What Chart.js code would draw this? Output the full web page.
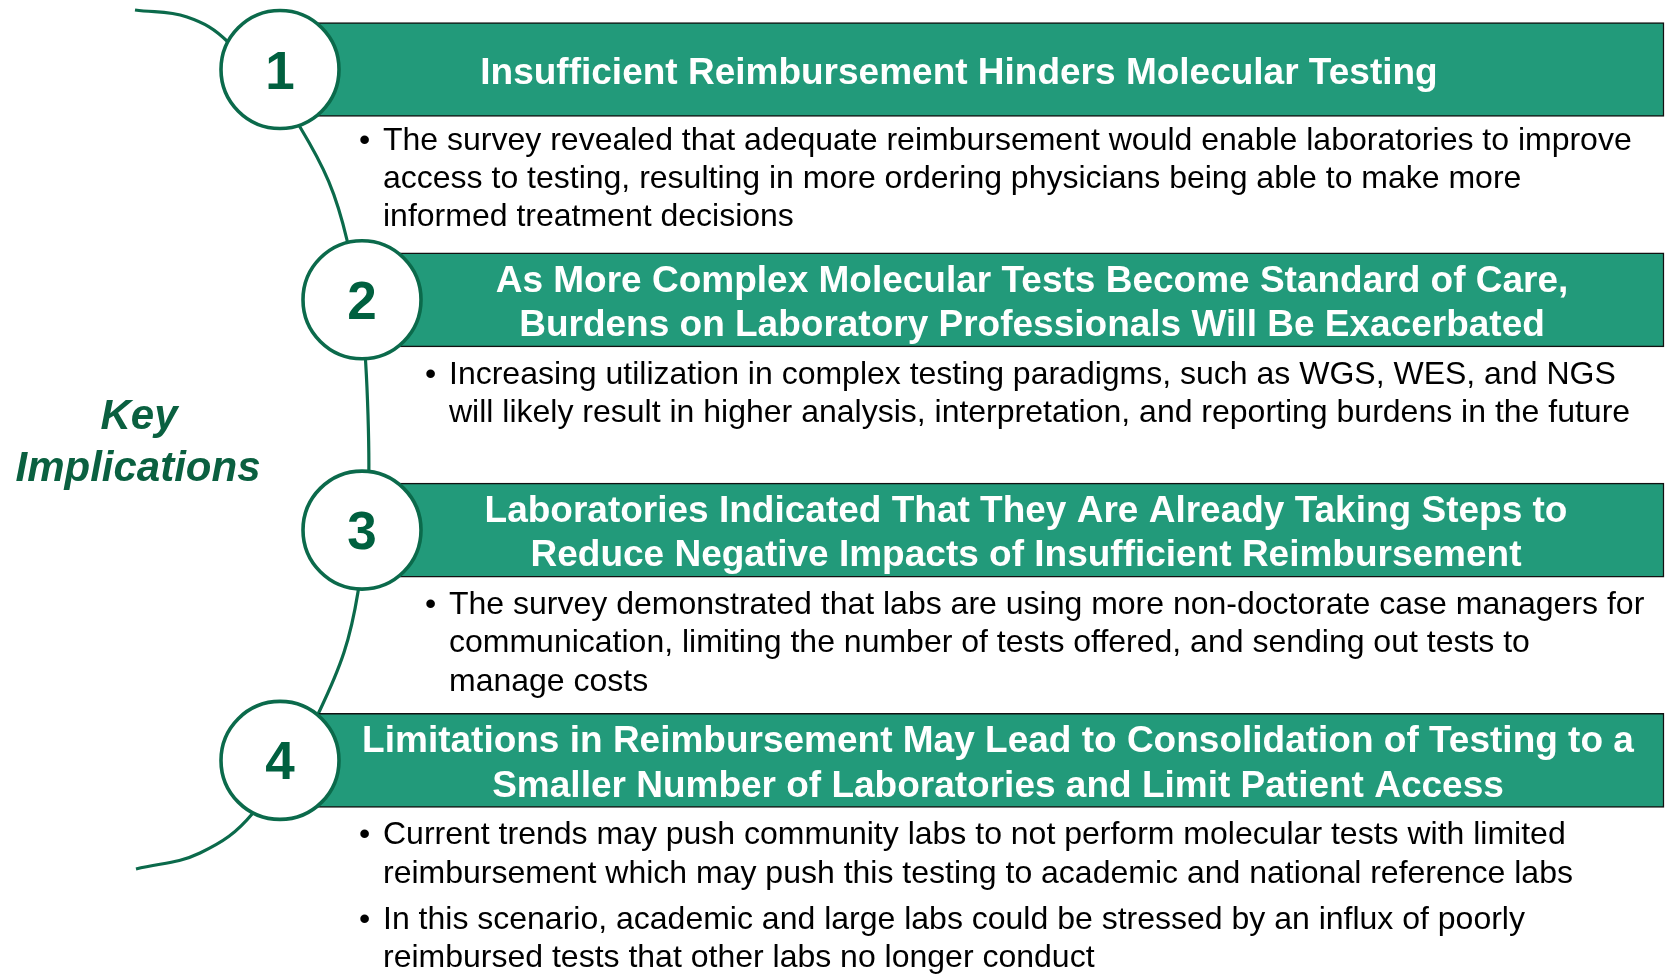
<!DOCTYPE html>
<html>
<head>
<meta charset="utf-8">
<title>Key Implications</title>
<script src="https://cdn.jsdelivr.net/npm/chart.js@4.4.1/dist/chart.umd.min.js"></script>
<style>
    html, body { margin: 0; padding: 0; background: #ffffff; }
    #wrap { width: 1665px; height: 976px; position: relative; }
</style>
</head>
<body>
<div id="wrap"><canvas id="keyChart"></canvas></div>
<script>
// Contenu de la figure
const sideTitle = ["Key", "Implications"];
const stepNumbers = ["1", "2", "3", "4"];
const stepTitles = [
    ["Insufficient Reimbursement Hinders Molecular Testing"],
    ["As More Complex Molecular Tests Become Standard of Care,", "Burdens on Laboratory Professionals Will Be Exacerbated"],
    ["Laboratories Indicated That They Are Already Taking Steps to", "Reduce Negative Impacts of Insufficient Reimbursement"],
    ["Limitations in Reimbursement May Lead to Consolidation of Testing to a", "Smaller Number of Laboratories and Limit Patient Access"]
];
const stepBullets = [
    [["The survey revealed that adequate reimbursement would enable laboratories to improve",
      "access to testing, resulting in more ordering physicians being able to make more",
      "informed treatment decisions"]],
    [["Increasing utilization in complex testing paradigms, such as WGS, WES, and NGS",
      "will likely result in higher analysis, interpretation, and reporting burdens in the future"]],
    [["The survey demonstrated that labs are using more non-doctorate case managers for",
      "communication, limiting the number of tests offered, and sending out tests to",
      "manage costs"]],
    [["Current trends may push community labs to not perform molecular tests with limited",
      "reimbursement which may push this testing to academic and national reference labs"],
     ["In this scenario, academic and large labs could be stressed by an influx of poorly",
      "reimbursed tests that other labs no longer conduct"]]
];

// Mise en page (axe x en pixels, axe y en numéro d'étape)
const nodeX = [280, 362, 362, 280];
const bulletX = [359, 425, 425, 359];
const titleShift = [-32, 0, -6, 7];
const bodyGap = [33, 37, 37, 37];
const bannerRight = 1664;
const rowTop = 69.5, rowPitch = 230.3;
const rowOf = py => 1 + (py - rowTop) / rowPitch;

// tracé de l'arc décoratif (x en pixels, y en pixels converti en étape)
const arcPathX = [135, 187, 228, 300, 347, 368, 358, 320, 253, 200, 136];
const arcPathY = [10, 17, 42, 127, 240, 415, 592, 710, 813, 853, 869];

const GREEN = "#229a7a";
const DARK = "#0b6a4b";
const NUM = "#00603f";

const circlePoints = stepNumbers.map((n, i) => ({ x: nodeX[i], y: i + 1 }));
const arcPoints = arcPathX.map((x, i) => ({ x: x, y: rowOf(arcPathY[i]) }));
const bannerData = stepNumbers.map((n, i) => ({ y: i + 1, x: [nodeX[i] + 38, bannerRight] }));

// Textes dessinés par-dessus les formes
const textPlugin = {
    id: "textPlugin",
    afterDatasetsDraw(chart) {
        const ctx = chart.ctx;
        const xs = chart.scales.x, ys = chart.scales.y;
        const bars = chart.getDatasetMeta(1).data;
        const dots = chart.getDatasetMeta(0).data;
        ctx.save();
        ctx.textBaseline = "alphabetic";

        // numéros dans les cercles
        ctx.fillStyle = NUM;
        ctx.textAlign = "center";
        ctx.font = "bold 53px 'Liberation Sans', Arial, sans-serif";
        dots.forEach((p, i) => ctx.fillText(stepNumbers[i], p.x, p.y + 19));

        bars.forEach((bar, i) => {
            const left = Math.min(bar.base, bar.x), right = Math.max(bar.base, bar.x);
            const bottom = bar.y + bar.height / 2;

            // titre du bandeau
            ctx.fillStyle = "#ffffff";
            ctx.textAlign = "center";
            ctx.font = "bold 37px 'Liberation Sans', Arial, sans-serif";
            const lines = stepTitles[i];
            const lh = 44.6;
            const cx = (left + right) / 2 + titleShift[i];
            const y0 = bar.y - (lines.length - 1) * lh / 2 + 14;
            lines.forEach((l, k) => ctx.fillText(l, cx, y0 + k * lh));

            // puces
            ctx.fillStyle = "#000000";
            ctx.textAlign = "left";
            ctx.font = "32px 'Liberation Sans', Arial, sans-serif";
            let y = bottom + bodyGap[i];
            stepBullets[i].forEach(par => {
                ctx.fillText("\u2022", bulletX[i], y);
                par.forEach(l => {
                    ctx.fillText(l, bulletX[i] + 24, y);
                    y += 38.2;
                });
                y += 8;
            });
        });

        // titre latéral
        ctx.fillStyle = "#0a6040";
        ctx.textAlign = "center";
        ctx.font = "italic bold 42px 'Liberation Sans', Arial, sans-serif";
        const sy = ys.getPixelForValue(2.5);
        ctx.fillText(sideTitle[0], xs.getPixelForValue(139), sy + 14);
        ctx.fillText(sideTitle[1], xs.getPixelForValue(138), sy + 66);
        ctx.restore();
    }
};

new Chart(document.getElementById("keyChart"), {
    type: "line",
    data: {
        datasets: [
            {
                type: "scatter",
                data: circlePoints,
                pointRadius: 59,
                pointBorderWidth: 3.6,
                pointBackgroundColor: "#ffffff",
                pointBorderColor: DARK,
                order: 0
            },
            {
                type: "bar",
                indexAxis: "y",
                data: bannerData,
                backgroundColor: GREEN,
                borderColor: "#111111",
                borderWidth: 1.5,
                borderSkipped: false,
                barThickness: 94,
                order: 1
            },
            {
                type: "line",
                data: arcPoints,
                borderColor: DARK,
                borderWidth: 3.2,
                pointRadius: 0,
                tension: 0.4,
                fill: false,
                order: 2
            }
        ]
    },
    options: {
        responsive: true,
        maintainAspectRatio: false,
        animation: false,
        events: [],
        layout: { padding: 0, autoPadding: false },
        plugins: { legend: { display: false }, tooltip: { enabled: false } },
        scales: {
            x: { type: "linear", display: false, offset: false, min: 0, max: 1665 },
            y: {
                type: "linear", display: false, reverse: true, offset: false,
                min: rowOf(0),
                max: rowOf(976)
            }
        }
    },
    plugins: [textPlugin]
});
</script>
</body>
</html>
